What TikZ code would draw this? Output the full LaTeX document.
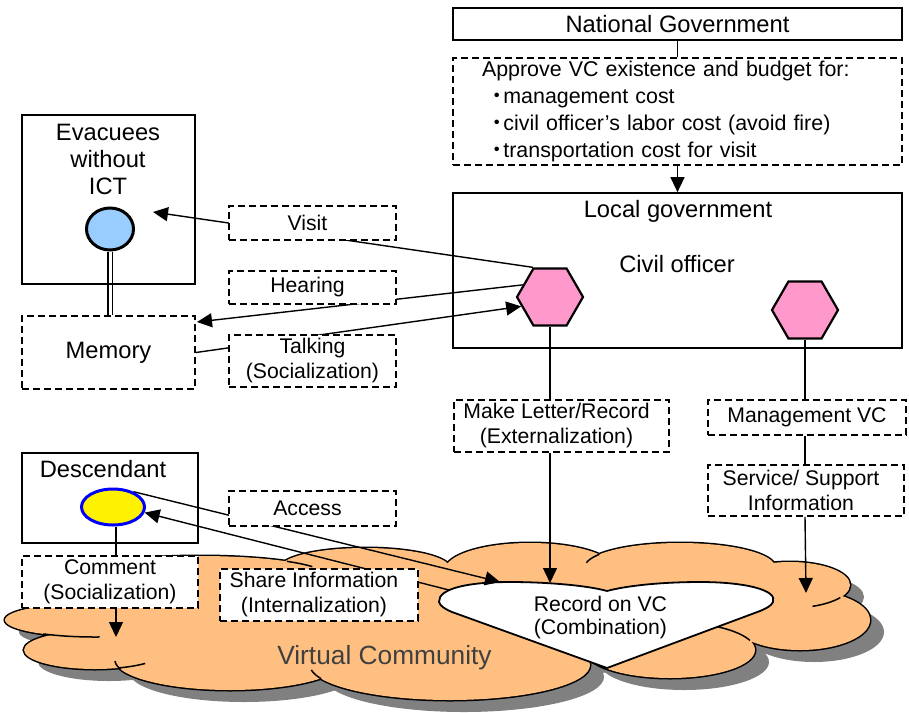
\documentclass[tikz,border=0pt]{standalone}
\usepackage{fontspec}
\setmainfont{Liberation Sans}
\newfontfamily\cjk{Noto Sans CJK JP}
\usetikzlibrary{shapes.geometric,arrows.meta,calc}
\pgfdeclarelayer{cloudlayer}
\pgfdeclarelayer{connlayer}
\pgfsetlayers{cloudlayer,connlayer,main}

\definecolor{vcorange}{RGB}{255,191,128}
\definecolor{shadowgray}{RGB}{128,128,128}
\definecolor{evblue}{RGB}{153,204,255}
\definecolor{hexpink}{RGB}{255,153,204}
\definecolor{vctext}{RGB}{64,64,64}

\newcommand{\lab}{\fontsize{21.2pt}{25pt}\selectfont}
\newcommand{\ttl}{\fontsize{23.7pt}{27pt}\selectfont}
\newcommand{\rpad}{\rule{10pt}{0pt}}

\newcommand{\cloudlobes}{%
 (95,620) ellipse [x radius=90pt, y radius=17pt]
 (95,650) ellipse [x radius=71pt, y radius=19pt]
 (230,660) ellipse [x radius=115pt, y radius=30pt]
 (450,665) ellipse [x radius=140pt, y radius=35pt]
 (670,650) ellipse [x radius=85pt, y radius=28pt]
 (800,620) ellipse [x radius=70pt, y radius=30pt]
 (790,585) ellipse [x radius=60pt, y radius=23pt]
 (680,567) ellipse [x radius=95pt, y radius=24pt]
 (530,570) ellipse [x radius=85pt, y radius=27pt]
 (365,568) ellipse [x radius=85pt, y radius=20pt]
 (200,575) ellipse [x radius=125pt, y radius=19pt]}
\newcommand{\cloudcore}{(440,615) ellipse [x radius=370pt, y radius=50pt]}
\newcommand{\crease}[6]{\draw[line width=1.5pt] plot[domain=#5:#6, samples=25] ({#1+#3*cos(\x)},{#2+#4*sin(\x)});}

\tikzset{
 sbox/.style={draw, line width=1.7pt, rectangle, inner sep=0pt, align=center},
 dbox/.style={draw, line width=1.8pt, dash pattern=on 7pt off 4pt, fill=white, rectangle, inner sep=0pt, align=center, font=\lab},
 conn/.style={line width=1.4pt},
 arr/.style={conn, -{Triangle[length=15pt,width=14pt]}},
 hexnode/.style={regular polygon, regular polygon sides=6, minimum size=66pt, inner sep=0pt, fill=hexpink, draw, line width=2.2pt},
}

\begin{document}
\begin{tikzpicture}[x=1pt,y=-1pt]
\useasboundingbox (0,0) rectangle (909,712);

% ---------- nodes ----------
\node[sbox, fill=white, minimum width=449pt, minimum height=32pt, font=\ttl] (natgov) at (677.5,24) {National Government};
\node[dbox, minimum width=449pt, minimum height=107pt, align=left, text width=391pt,
      font=\fontsize{21.4pt}{27pt}\selectfont] (approve) at (677.5,111.5)
 {Approve VC existence and budget for:\\
  \hspace*{4pt}{\cjk ・}\hspace{-4pt}management cost\\
  \hspace*{4pt}{\cjk ・}\hspace{-4pt}civil officer’s labor cost (avoid fire)\\
  \hspace*{4pt}{\cjk ・}\hspace{-4pt}transportation cost for visit};
\node[sbox, minimum width=449pt, minimum height=155pt] (localgov) at (677.5,270.5) {};
\node[font=\ttl, anchor=base] (lgtitle) at (678,217) {Local government};
\node[font=\ttl, anchor=base] (civoff) at (677,272) {Civil officer};
\node[hexnode] (hex1) at (550,297) {};
\node[hexnode] (hex2) at (805,310) {};

\node[dbox, minimum width=215pt, minimum height=52pt] (letter) at (561.5,426) {Make Letter/Record\rpad\\(Externalization)\rpad};
\node[dbox, minimum width=198pt, minimum height=35pt] (mgmt) at (807,417.5) {Management VC};
\node[dbox, minimum width=196pt, minimum height=51pt] (service) at (806,490.5) {Service/ Support\rpad\\Information\rpad};

\node[sbox, minimum width=173pt, minimum height=169pt] (evac) at (108.5,199.5) {};
\node[font=\ttl, align=center] (evtext) at (108,159.5) {Evacuees\\without\\ICT};
\node[ellipse, draw, line width=3pt, fill=evblue, minimum width=47pt, minimum height=42pt, inner sep=0pt] (circ) at (110,229) {};
\node[dbox, font=\ttl, minimum width=173pt, minimum height=73pt] (memory) at (108.5,352.5) {Memory};

\node[dbox, minimum width=167pt, minimum height=34pt] (visit) at (312.5,223) {Visit\rpad};
\node[dbox, minimum width=167pt, minimum height=33pt] (hearing) at (312.5,287.5) {Hearing\rpad};
\node[dbox, minimum width=167pt, minimum height=52pt] (talking) at (312.5,361) {Talking\\(Socialization)};

\node[sbox, minimum width=176pt, minimum height=90pt] (desc) at (110,498) {};
\node[font=\ttl, anchor=base] (desctext) at (103,477) {Descendant};
\node[ellipse, draw=blue, line width=3pt, fill=yellow, minimum width=63pt, minimum height=36pt, inner sep=0pt] (eyel) at (113,507) {};
\node[dbox, minimum width=176pt, minimum height=52pt] (comment) at (110,582) {Comment\\(Socialization)};
\node[dbox, minimum width=167pt, minimum height=35pt] (access) at (312.5,508.5) {Access\rpad};
\node[dbox, minimum width=198pt, minimum height=52pt] (share) at (319,595) {Share Information\rpad\\(Internalization)\rpad};

\node[font=\lab, align=center, inner sep=0pt, text=black] (record) at (600.5,617.5) {Record on VC\\[-2pt](Combination)};
\node[font=\fontsize{26.3pt}{30pt}\selectfont, text=vctext, anchor=base] (vctitle) at (384.5,664) {Virtual Community};

% free ends of connectors
\coordinate (visitEnd) at (153,212);
\coordinate (hearEnd) at (197,322);
\coordinate (recAcc) at (500,582);
\coordinate (recLet) at (550,583);
\coordinate (recShare) at (449,590);
\coordinate (vcSvc) at (806,593);
\coordinate (vcCom) at (116,637);
\coordinate (comX) at (116,0);

% ---------- cloud and heart ----------
\begin{pgfonlayer}{cloudlayer}
 \begin{scope}[shift={(14,12)}]
  \fill[shadowgray] \cloudlobes;
  \fill[shadowgray] \cloudcore;
 \end{scope}
 \draw[line width=3pt] \cloudlobes;
 \fill[vcorange] \cloudlobes;
 \fill[vcorange] \cloudcore;
 \crease{95}{620}{90}{17}{87}{125}
 \crease{95}{650}{71}{19}{45}{70}
 \crease{230}{660}{115}{30}{162}{178}
 \crease{450}{665}{140}{35}{157}{172}
 \crease{670}{650}{85}{28}{-62}{-20}
 \crease{790}{585}{60}{23}{33}{68}
 \crease{200}{575}{125}{19}{-46}{-26}
 \crease{680}{567}{95}{24}{-170}{-148}
 \draw[line width=1.8pt, fill=white]
  (439,602) .. controls (438,588) and (470,582) .. (510,582)
  .. controls (550,582) and (590,586) .. (607,591)
  .. controls (625,586) and (660,582) .. (700,582)
  .. controls (745,582) and (778,590) .. (773,602)
  .. controls (771,606) and (767,608) .. (760,611)
  -- (607,668) -- (452,612)
  .. controls (445,609) and (440,606) .. (439,602) -- cycle;
\end{pgfonlayer}

% ---------- connectors ----------
\begin{pgfonlayer}{connlayer}
 \draw[conn] (natgov.south) -- (approve.north);
 \draw[arr] (approve.south) -- (localgov.north);
 \draw[conn] (hex1.south) -- (hex1.south |- letter.north);
 \draw[arr] (hex1.south |- letter.south) -- (recLet);
 \draw[conn] (hex2.south) -- (hex2.south |- mgmt.north);
 \draw[conn] (hex2.south |- mgmt.south) -- (hex2.south |- service.north);
 \draw[arr] (hex2.south |- service.south) -- (vcSvc);
 \draw[arr] (hex1.120) -- (visitEnd);
 \draw[arr] (hex1.156) -- (hearEnd);
 \draw[arr] (memory.east) -- (hex1.198);
 \draw[double, double distance=3pt, line width=1.4pt] (circ.south) -- (circ.south |- memory.north);
 \draw[conn] (comX |- eyel.south) -- (comX |- comment.north);
 \draw[arr] (comX |- comment.south) -- (vcCom);
 \draw[arr] (eyel.37) -- (recAcc);
 \draw[arr] (recShare) -- (eyel.-10);
\end{pgfonlayer}
\end{tikzpicture}
\end{document}
